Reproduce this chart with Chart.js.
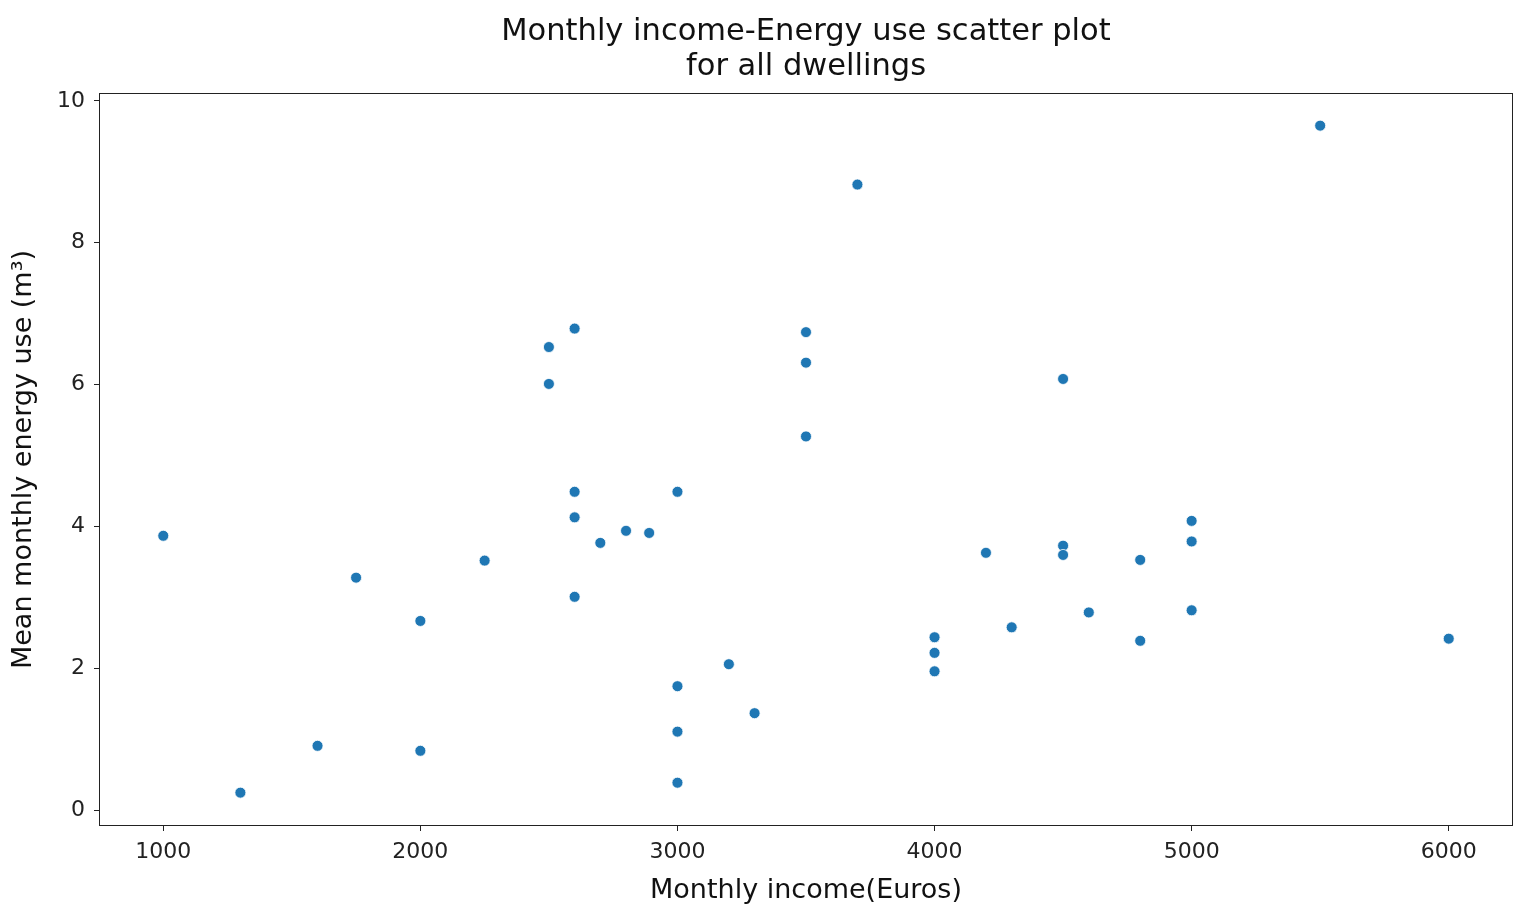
<!DOCTYPE html>
<html>
<head>
<meta charset="utf-8">
<script src="https://cdn.jsdelivr.net/npm/chart.js@4/dist/chart.umd.min.js"></script>
<style>
  html, body { margin: 0; padding: 0; background: #fff; }
  #wrap { width: 1516px; height: 904px; }
</style>
</head>
<body>
<div id="wrap"><canvas id="scatterChart"></canvas></div>
<script>
// monthly income (Euros) of each dwelling
const income = [1000, 1300, 1600, 1750, 2000, 2000, 2250, 2500, 2500, 2600, 2600, 2600, 2600, 2700,
  2800, 2890, 3000, 3000, 3000, 3000, 3200, 3300, 3500, 3500, 3500, 3700, 4000, 4000, 4000, 4200,
  4300, 4500, 4500, 4500, 4600, 4800, 4800, 5000, 5000, 5000, 5500, 6000];
// mean monthly energy use (m3)
const energy = [3.87, 0.25, 0.91, 3.28, 2.67, 0.84, 3.52, 6.53, 6.01, 6.79, 4.49, 4.13, 3.01, 3.77,
  3.94, 3.91, 4.49, 1.75, 1.11, 0.39, 2.06, 1.37, 6.74, 6.31, 5.27, 8.82, 2.44, 2.22, 1.96, 3.63,
  2.58, 6.08, 3.73, 3.60, 2.79, 3.53, 2.39, 4.08, 3.79, 2.82, 9.65, 2.42];

const xTicks = [1000, 2000, 3000, 4000, 5000, 6000];
const yTicks = [0, 2, 4, 6, 8, 10];
const titleLines = ["Monthly income-Energy use scatter plot", "for all dwellings"];

const points = income.map((x, i) => ({ x: x, y: energy[i] }));

const frameAndTitle = {
  id: "frameAndTitle",
  afterDraw(chart) {
    const { ctx, chartArea } = chart;
    ctx.save();
    ctx.strokeStyle = "#222";
    ctx.lineWidth = 1;
    ctx.strokeRect(chartArea.left + 0.5, chartArea.top + 0.5,
      chartArea.right - chartArea.left - 1, chartArea.bottom - chartArea.top - 1);
    ctx.fillStyle = "#111";
    ctx.font = '30.5px "DejaVu Sans"';
    ctx.textAlign = "center";
    ctx.textBaseline = "alphabetic";
    const cx = (chartArea.left + chartArea.right) / 2;
    ctx.fillText(titleLines[0], cx, 40);
    ctx.fillText(titleLines[1], cx, 75);
    ctx.restore();
  }
};

function initChart() {
  const ctx = document.getElementById("scatterChart").getContext("2d");
  new Chart(ctx, {
    type: "scatter",
    data: {
      datasets: [
        {
          label: "dwellings",
          data: points,
          backgroundColor: "#1f77b4",
          borderColor: "#ffffff",
          borderWidth: 0.8,
          pointRadius: 5.5,
          pointHoverRadius: 5.5
        }
      ]
    },
    options: {
      responsive: true,
      maintainAspectRatio: false,
      animation: false,
      layout: { autoPadding: false, padding: { top: 93, right: 3, left: 0, bottom: 0 } },
      plugins: {
        legend: { display: false },
        tooltip: { enabled: false }
      },
      scales: {
        x: {
          type: "linear",
          min: 750,
          max: 6250,
          afterFit(scale) { scale.height = 78; },
          afterBuildTicks(scale) { scale.ticks = xTicks.map(v => ({ value: v })); },
          border: { display: false },
          grid: { drawOnChartArea: false, drawTicks: true, tickLength: 5, tickColor: "#222", color: "#222" },
          ticks: {
            font: { family: "DejaVu Sans", size: 22 },
            color: "#222",
            padding: 8,
            maxRotation: 0,
            callback: v => String(v)
          },
          title: {
            display: true,
            text: "Monthly income(Euros)",
            font: { family: "DejaVu Sans", size: 27, lineHeight: 1 },
            color: "#111",
            padding: { top: 0, bottom: 0 }
          }
        },
        y: {
          type: "linear",
          min: -0.22,
          max: 10.11,
          afterFit(scale) { scale.width = 99; },
          afterBuildTicks(scale) { scale.ticks = yTicks.map(v => ({ value: v })); },
          border: { display: false },
          grid: { drawOnChartArea: false, drawTicks: true, tickLength: 5, tickColor: "#222", color: "#222" },
          ticks: {
            font: { family: "DejaVu Sans", size: 22 },
            color: "#222",
            padding: 9,
            callback: v => String(v)
          },
          title: {
            display: true,
            text: "Mean monthly energy use (m³)",
            font: { family: "DejaVu Sans", size: 27, lineHeight: 1 },
            color: "#111",
            padding: { top: 10, bottom: 0 }
          }
        }
      }
    },
    plugins: [frameAndTitle]
  });
}

initChart();
</script>
</body>
</html>
